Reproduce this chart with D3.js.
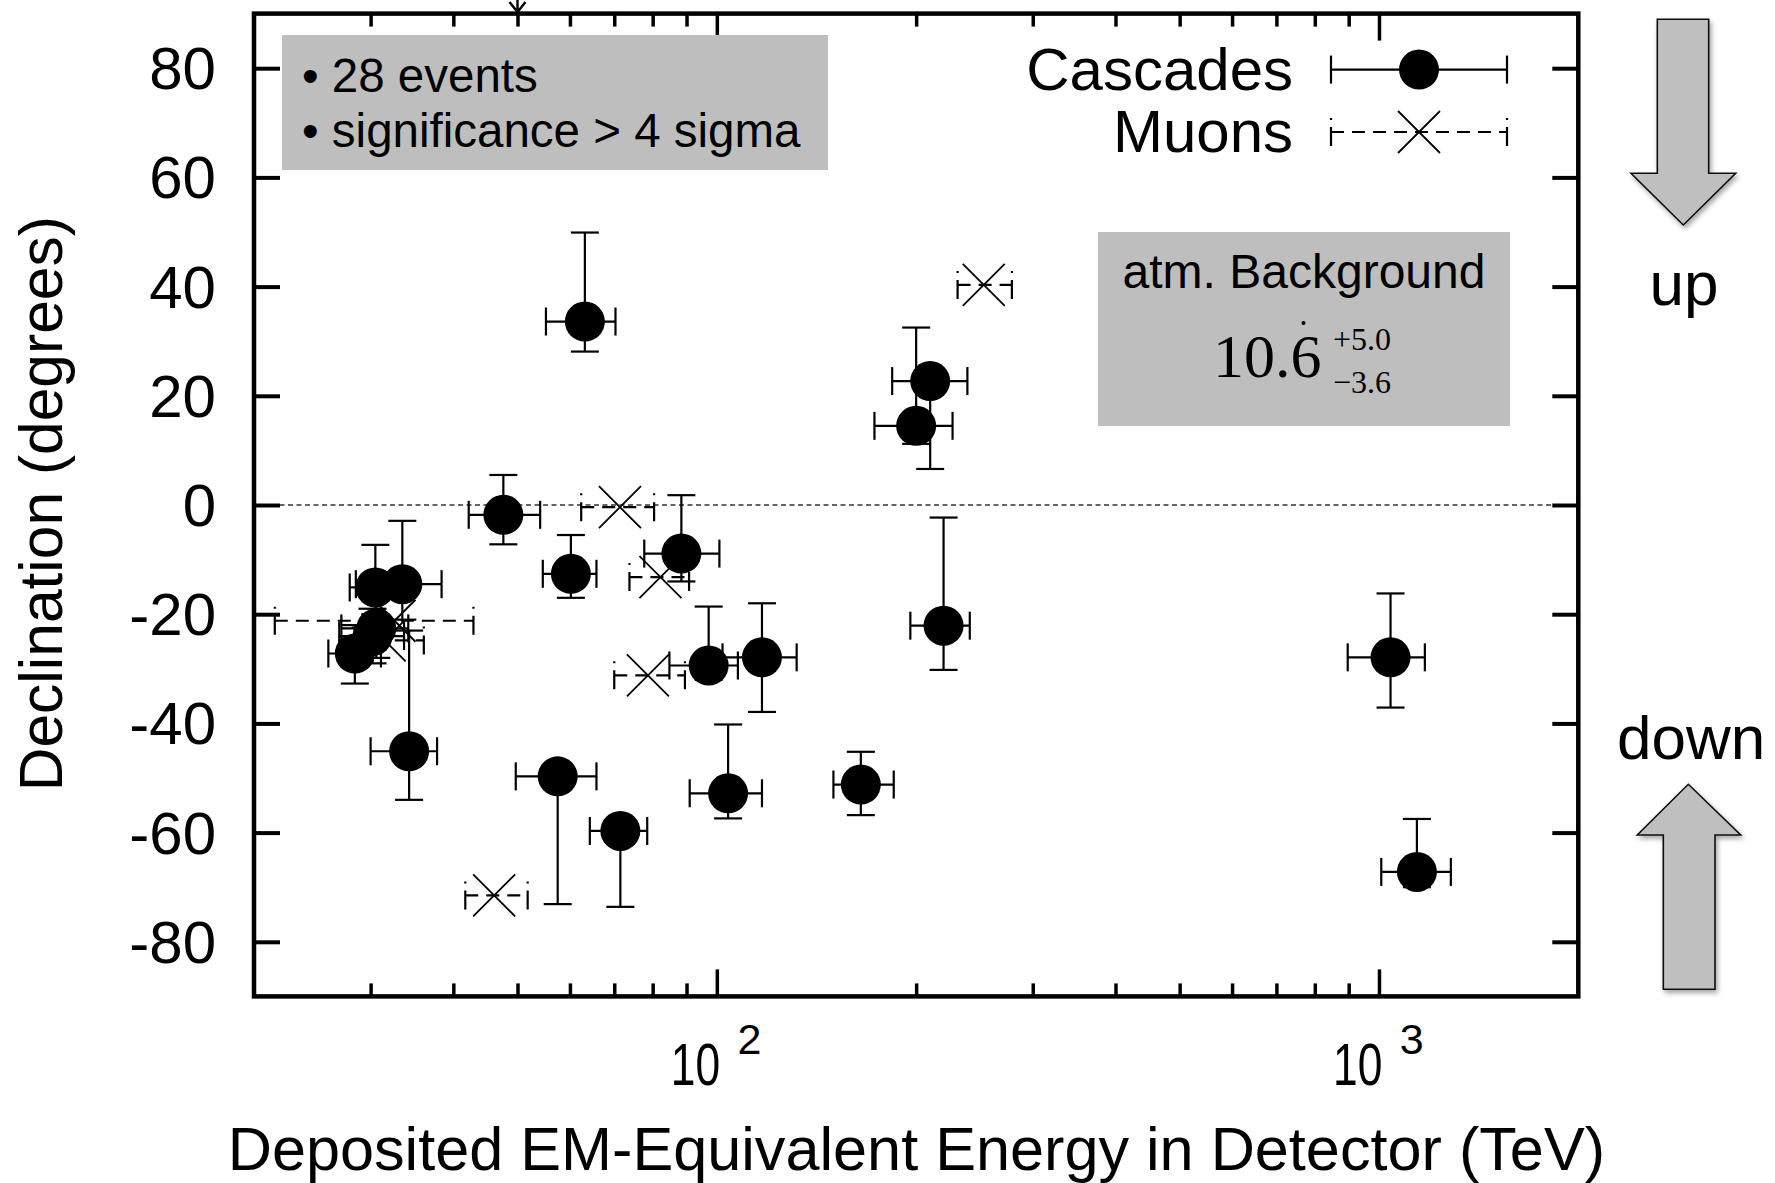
<!DOCTYPE html>
<html><head><meta charset="utf-8">
<script src="https://cdn.jsdelivr.net/npm/d3@7"></script>
<style>html,body{margin:0;padding:0;background:#fff;} svg{display:block;}</style>
</head><body>
<svg id="chart" width="1775" height="1183"></svg>
<script>
// ---------------- DATA ----------------
// Cascade (shower) events: deposited energy (TeV) with range, declination (deg) with range
const cascadeEnergy     = [47.6, 117, 165, 28.4, 34.3, 63.2, 97.2, 88.4, 104, 1041, 57.5, 30.6, 200, 71.5, 1141, 30.2, 220, 30.5, 33.5, 210, 60.2];
const cascadeEnergyLow  = [42.2, 102, 150, 25.9, 30.0, 55.2, 84.8, 77.7, 91, 897, 49.7, 27.1, 173, 64.3, 1008, 26.9, 196, 27.9, 28.5, 184, 54.6];
const cascadeEnergyHigh = [54.1, 132, 185, 31.1, 37.8, 70.3, 107.6, 100.9, 117, 1173, 65.8, 34.2, 227, 78.5, 1284, 33.7, 241, 33.7, 38.4, 239, 65.8];
const cascadeDecl       = [-1.8, -27.9, -51.2, -27.2, -45.1, 33.6, -29.4, -8.9, -52.8, -27.9, -49.7, -22.6, 14.5, -59.7, -67.2, -24.0, -22.1, -15.1, -14.5, 22.7, -12.6];
const cascadeDeclLow    = [-7.2, -37.9, -56.8, -32.7, -54.0, 28.1, -32.0, -14.0, -57.4, -37.1, -73.1, -28.0, 11.2, -73.6, -70.0, -29.0, -30.2, -20.0, -21.0, 6.6, -17.0];
const cascadeDeclHigh   = [5.5, -18.0, -45.2, -22.0, -23.0, 49.9, -18.6, 1.8, -40.2, -16.2, -48.0, -17.0, 32.5, -58.0, -57.5, -19.0, -2.3, -7.3, -2.9, 25.0, -5.5];

// Muon (track) events
const muonEnergy     = [78.7, 71.4, 32.6, 253, 31.5, 82.2, 46.1];
const muonEnergyLow  = [70.0, 62.4, 21.5, 231, 28.2, 73.8, 41.7];
const muonEnergyHigh = [89.5, 80.4, 42.9, 279, 36.1, 90.8, 51.8];
const muonDecl       = [-31.2, -0.4, -21.2, 40.3, -24.8, -13.2, -71.5];

// Axes
const xDomain = [20, 2000];
const yDomain = [-90, 90];
const yTicks = [-80, -60, -40, -20, 0, 20, 40, 60, 80];
const xMinorTicks = [30, 40, 50, 60, 70, 80, 90, 200, 300, 400, 500, 600, 700, 800, 900];
const xMajorTicks = [100, 1000];
const xMajorBase = ["10", "10"];
const xMajorExp = ["2", "3"];

// Texts
const infoLines = ["\u2022 28 events", "\u2022 significance > 4 sigma"];
const legendLabels = ["Cascades", "Muons"];
const bgTitle = "atm. Background";
const bgValue = "10.6", bgPlus = "+5.0", bgMinus = "\u22123.6";
const xTitle = "Deposited EM-Equivalent Energy in Detector (TeV)";
const yTitle = "Declination (degrees)";

// ---------------- DRAW ----------------
const FONT = "'Liberation Sans', Arial, Helvetica, sans-serif";
const SERIF = "'Liberation Serif', 'Times New Roman', serif";
const svg = d3.select("#chart");
const L = 254, R = 1578.3, T = 13.6, B = 996.4;
const x = d3.scaleLog().domain(xDomain).range([L, R]);
const y = d3.scaleLinear().domain(yDomain).range([B, T]);

const defs = svg.append("defs");
const f = defs.append("filter").attr("id", "shadow").attr("x", "-20%").attr("y", "-20%").attr("width", "150%").attr("height", "150%");
f.append("feDropShadow").attr("dx", 2).attr("dy", 3).attr("stdDeviation", 2.5).attr("flood-color", "#000").attr("flood-opacity", 0.35);

// zero line
svg.append("line").attr("x1", L).attr("x2", R).attr("y1", y(0)).attr("y2", y(0))
  .attr("stroke", "#333").attr("stroke-width", 1.5).attr("stroke-dasharray", "5,3.5");

// Left axis with labels
svg.append("g").attr("transform", `translate(${L},0)`)
  .call(d3.axisLeft(y).tickValues(yTicks).tickFormat(d => String(d)).tickSizeInner(-26).tickSizeOuter(0).tickPadding(38))
  .call(g => g.select(".domain").remove())
  .call(g => g.selectAll("line").attr("stroke", "#000").attr("stroke-width", 4))
  .call(g => g.selectAll("text").attr("font-size", 60).attr("font-family", FONT).attr("fill", "#000").attr("dy", "0.34em"));

// Right axis ticks
svg.append("g").attr("transform", `translate(${R},0)`)
  .call(d3.axisRight(y).tickValues(yTicks).tickFormat("").tickSizeInner(-26).tickSizeOuter(0))
  .call(g => g.select(".domain").remove())
  .call(g => g.selectAll("line").attr("stroke", "#000").attr("stroke-width", 4));

// Bottom & top ticks
[["bottom", B, d3.axisBottom], ["top", T, d3.axisTop]].forEach(([n, yy, ax]) => {
  svg.append("g").attr("transform", `translate(0,${yy})`)
    .call(ax(x).tickValues(xMinorTicks).tickFormat("").tickSizeInner(-13).tickSizeOuter(0))
    .call(g => g.select(".domain").remove())
    .call(g => g.selectAll("line").attr("stroke", "#000").attr("stroke-width", 3.5));
  const gm = svg.append("g").attr("transform", `translate(0,${yy})`)
    .call(ax(x).tickValues(xMajorTicks).tickFormat(() => "").tickSizeInner(-27).tickSizeOuter(0))
    .call(g => g.select(".domain").remove())
    .call(g => g.selectAll("line").attr("stroke", "#000").attr("stroke-width", 3.5));
  if (n === "bottom") {
    gm.selectAll(".tick").each(function (d, i) {
      const t = d3.select(this);
      t.select("text").remove();
      t.append("text").attr("transform", "translate(-46.5,88.6) scale(0.74,1)")
        .attr("font-family", FONT).attr("font-size", 60).attr("fill", "#000").attr("text-anchor", "start")
        .text(xMajorBase[i]);
      t.append("text").attr("x", 20.3).attr("y", 57.6)
        .attr("font-family", FONT).attr("font-size", 43).attr("fill", "#000").attr("text-anchor", "start")
        .text(xMajorExp[i]);
    });
  }
});

// Frame
svg.append("rect").attr("x", L).attr("y", T).attr("width", R - L).attr("height", B - T)
  .attr("fill", "none").attr("stroke", "#000").attr("stroke-width", 4.5);

// small cut-off arrow at top
svg.append("path").attr("d", `M${x(50)},0 L${x(50)},12 M${x(50) - 8},2 L${x(50)},12 L${x(50) + 8},2`)
  .attr("fill", "none").attr("stroke", "#000").attr("stroke-width", 2.4);

// ---- mark helpers ----
const CAP = 14;
function cascade(g, cx, cy, x1, x2, y1, y2) {
  const s = g.append("g").attr("stroke", "#000").attr("stroke-width", 2.2).attr("fill", "none");
  if (y1 !== null) {
    s.append("line").attr("x1", cx).attr("x2", cx).attr("y1", y1).attr("y2", y2);
    s.append("line").attr("x1", cx - CAP).attr("x2", cx + CAP).attr("y1", y1).attr("y2", y1);
    s.append("line").attr("x1", cx - CAP).attr("x2", cx + CAP).attr("y1", y2).attr("y2", y2);
  }
  s.append("line").attr("x1", x1).attr("x2", x2).attr("y1", cy).attr("y2", cy);
  s.append("line").attr("x1", x1).attr("x2", x1).attr("y1", cy - CAP).attr("y2", cy + CAP);
  s.append("line").attr("x1", x2).attr("x2", x2).attr("y1", cy - CAP).attr("y2", cy + CAP);
  g.append("circle").attr("cx", cx).attr("cy", cy).attr("r", 20).attr("fill", "#000");
}
function muon(g, cx, cy, x1, x2) {
  const s = g.append("g").attr("stroke", "#000").attr("stroke-width", 2.2).attr("fill", "none");
  s.append("line").attr("x1", x1).attr("x2", x2).attr("y1", cy).attr("y2", cy).attr("stroke-dasharray", "13,8");
  [x1, x2].forEach(xx => s.append("line").attr("x1", xx).attr("x2", xx)
    .attr("y1", cy + CAP).attr("y2", cy - CAP).attr("stroke-dasharray", "19,7,2,50"));
  const h = 21;
  g.append("path").attr("d", `M${cx - h},${cy - h}L${cx + h},${cy + h}M${cx - h},${cy + h}L${cx + h},${cy - h}`)
    .attr("stroke", "#000").attr("stroke-width", 1.8).attr("fill", "none");
}

const pts = svg.append("g");
cascadeEnergy.forEach((e, i) => {
  cascade(pts.append("g"), x(e), y(cascadeDecl[i]), x(cascadeEnergyLow[i]), x(cascadeEnergyHigh[i]),
    y(cascadeDeclLow[i]), y(cascadeDeclHigh[i]));
});
muonEnergy.forEach((e, i) => {
  muon(pts.append("g"), x(e), y(muonDecl[i]), x(muonEnergyLow[i]), x(muonEnergyHigh[i]));
});

// ---- Info box ----
svg.append("rect").attr("x", 282).attr("y", 35).attr("width", 546).attr("height", 135).attr("fill", "#bebebe");
infoLines.forEach((t, i) => {
  svg.append("text").attr("x", 302).attr("y", 91.7 + i * 55).attr("font-family", FONT).attr("font-size", 47.5)
    .attr("fill", "#000").text(t);
});

// ---- Legend ----
legendLabels.forEach((t, i) => {
  const ly = 69.6 + i * 62.4;
  svg.append("text").attr("x", 1293).attr("y", ly + 20).attr("text-anchor", "end")
    .attr("font-family", FONT).attr("font-size", 60).attr("fill", "#000").text(t);
  const g = svg.append("g");
  if (i === 0) cascade(g, 1419, ly, 1331, 1507, null, null);
  else muon(g, 1419, ly, 1331, 1507);
});

// ---- Background box ----
svg.append("rect").attr("x", 1098).attr("y", 232).attr("width", 412).attr("height", 194).attr("fill", "#bebebe");
svg.append("text").attr("x", 1304).attr("y", 288.3).attr("text-anchor", "middle")
  .attr("font-family", FONT).attr("font-size", 48).attr("fill", "#000").text(bgTitle);
svg.append("text").attr("x", 1213).attr("y", 376.7).attr("font-family", SERIF).attr("font-size", 62).attr("fill", "#000").text(bgValue);
svg.append("text").attr("x", 1333).attr("y", 350).attr("font-family", SERIF).attr("font-size", 32).attr("fill", "#000").text(bgPlus);
svg.append("text").attr("x", 1333).attr("y", 393).attr("font-family", SERIF).attr("font-size", 32).attr("fill", "#000").text(bgMinus);
svg.append("circle").attr("cx", 1303.5).attr("cy", 323).attr("r", 2).attr("fill", "#000");

// ---- Axis titles ----
svg.append("text").attr("x", 916.4).attr("y", 1169.5).attr("text-anchor", "middle")
  .attr("font-family", FONT).attr("font-size", 61.2).attr("fill", "#000").text(xTitle);
svg.append("text").attr("transform", "translate(62,503.7) rotate(-90)").attr("text-anchor", "middle")
  .attr("font-family", FONT).attr("font-size", 60.5).attr("fill", "#000").text(yTitle);

// ---- Side arrows ----
svg.append("path").attr("filter", "url(#shadow)")
  .attr("d", "M1657.3,19.3 L1708.7,19.3 L1708.7,173.3 L1735.7,173.3 L1683.3,225 L1631,173.3 L1657.3,173.3 Z")
  .attr("fill", "#bfbfbf").attr("stroke", "#111").attr("stroke-width", 1.6);
svg.append("path").attr("filter", "url(#shadow)")
  .attr("d", "M1688.3,784.3 L1740.7,835 L1715,835 L1715,989.3 L1663.3,989.3 L1663.3,835 L1637.3,835 Z")
  .attr("fill", "#bfbfbf").attr("stroke", "#111").attr("stroke-width", 1.6);
svg.append("text").attr("x", 1684).attr("y", 305).attr("text-anchor", "middle")
  .attr("font-family", FONT).attr("font-size", 62).attr("fill", "#000").text("up");
svg.append("text").attr("x", 1617).attr("y", 759).attr("text-anchor", "start")
  .attr("font-family", FONT).attr("font-size", 62).attr("fill", "#000").text("down");
</script>
</body></html>
